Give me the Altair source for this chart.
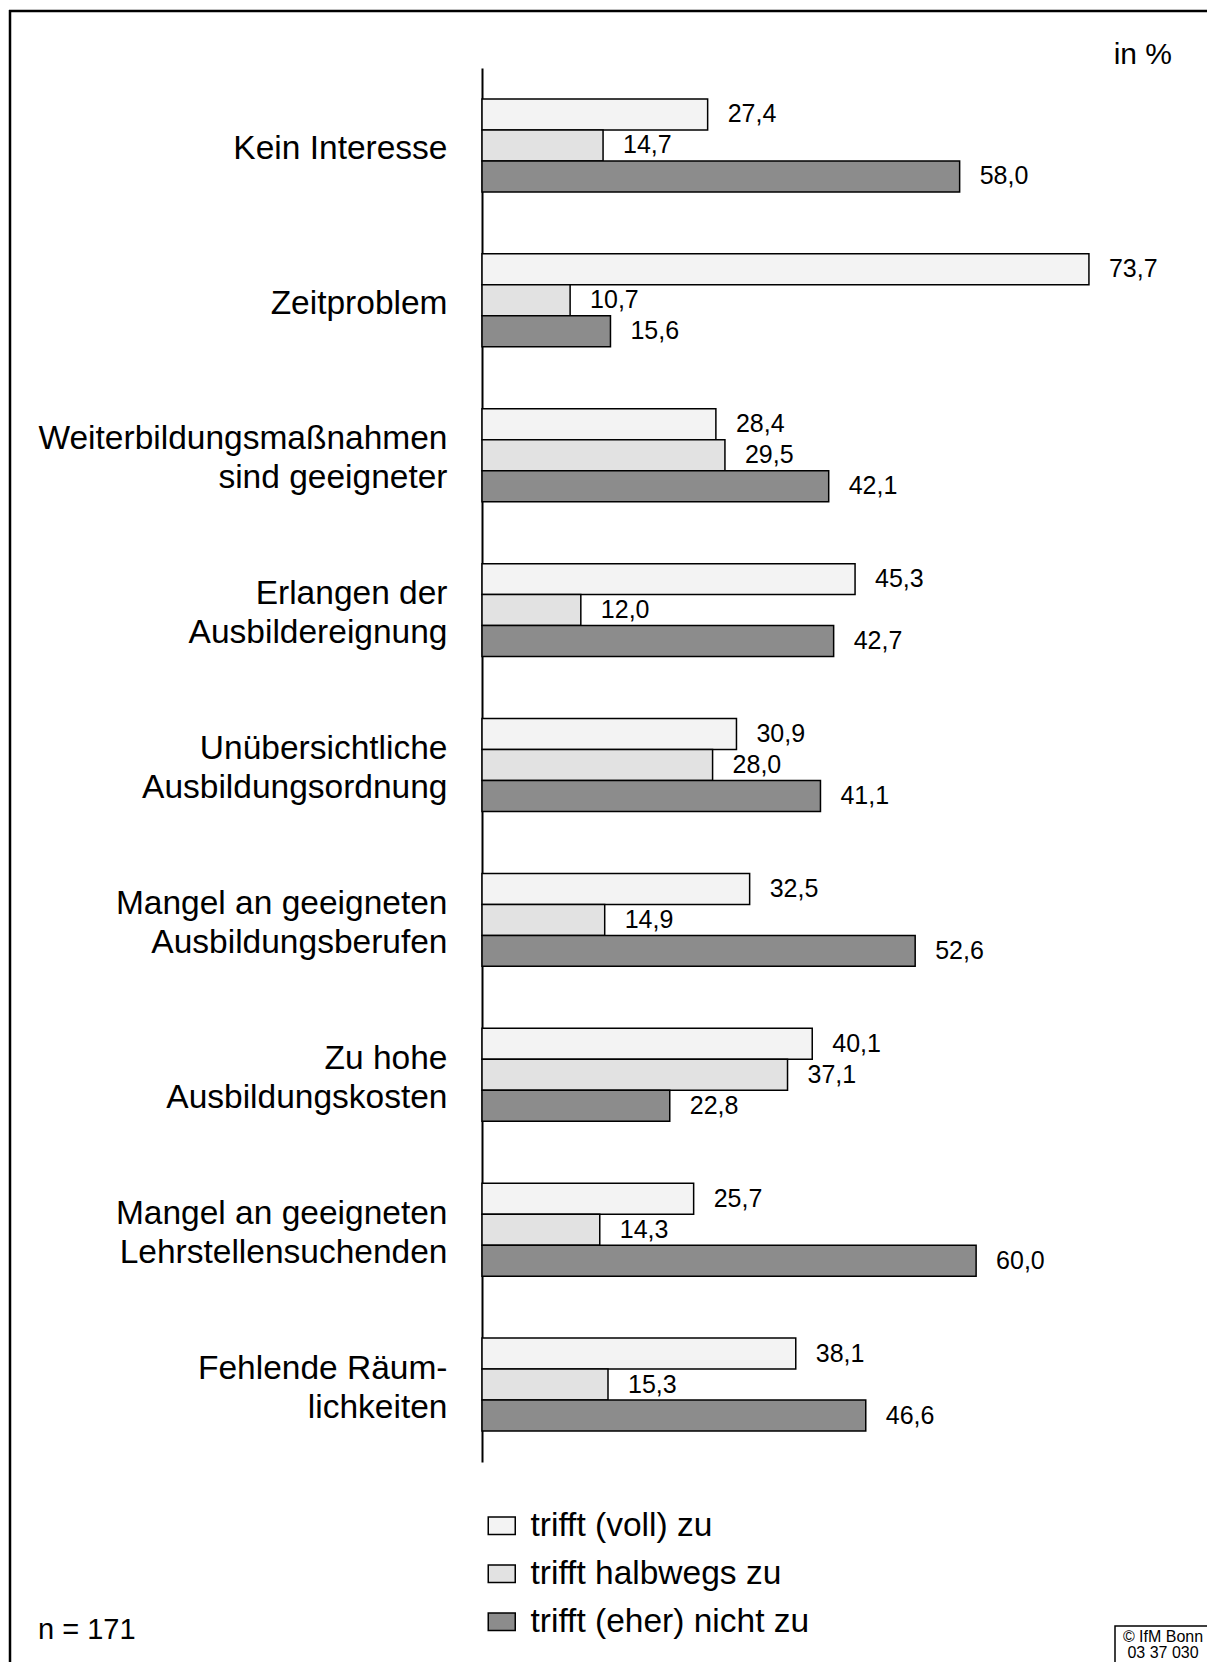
import altair as alt
import pandas as pd

categories = [
    "Kein Interesse",
    "Zeitproblem",
    "Weiterbildungsmaßnahmen|sind geeigneter",
    "Erlangen der|Ausbildereignung",
    "Unübersichtliche|Ausbildungsordnung",
    "Mangel an geeigneten|Ausbildungsberufen",
    "Zu hohe|Ausbildungskosten",
    "Mangel an geeigneten|Lehrstellensuchenden",
    "Fehlende Räum-|lichkeiten",
]
series = ["trifft (voll) zu", "trifft halbwegs zu", "trifft (eher) nicht zu"]
voll = [27.4, 73.7, 28.4, 45.3, 30.9, 32.5, 40.1, 25.7, 38.1]
halb = [14.7, 10.7, 29.5, 12.0, 28.0, 14.9, 37.1, 14.3, 15.3]
nicht = [58.0, 15.6, 42.1, 42.7, 41.1, 52.6, 22.8, 60.0, 46.6]
colors = ["#f3f3f3", "#e2e2e2", "#8c8c8c"]

rows = []
for s, vals in zip(series, [voll, halb, nicht]):
    for c, v in zip(categories, vals):
        rows.append({"cat": c, "series": s, "value": v,
                     "label": f"{v:.1f}".replace(".", ",")})
df = pd.DataFrame(rows)

FONT = "Liberation Sans"

y_enc = alt.Y("cat:N", sort=categories,
              scale=alt.Scale(paddingInner=0.4, paddingOuter=0.2),
              axis=alt.Axis(title=None, ticks=False, grid=False,
                            domainColor="black", domainWidth=2,
                            labelFont=FONT, labelFontSize=33.5, labelColor="black",
                            labelPadding=35, labelLimit=700, labelLineHeight=39,
                            labelAlign="right", labelBaseline="middle",
                            labelOffset={"condition": {"test": "indexof(datum.value, '|') >= 0",
                                                       "value": -16},
                                         "value": 4},
                            labelExpr="split(datum.label, '|')"))
yoff = alt.YOffset("series:N", sort=series,
                   scale=alt.Scale(paddingInner=0, paddingOuter=0))
x_enc = alt.X("value:Q", scale=alt.Scale(domain=[0, 85]), axis=None)

base = alt.Chart(df)

bars = base.mark_bar(stroke="black", strokeWidth=1.5, cornerRadius=0).encode(
    y=y_enc, yOffset=yoff, x=x_enc,
    fill=alt.Fill("series:N", sort=series,
                  scale=alt.Scale(domain=series, range=colors),
                  legend=alt.Legend(title=None, orient="none", legendX=3, legendY=1441,
                                    direction="vertical", padding=0,
                                    labelFont=FONT, labelFontSize=33.5, labelColor="black",
                                    labelOffset=12, rowPadding=13, labelLimit=700,
                                    symbolType="M-1,-0.65H1V0.65H-1Z", symbolSize=729,
                                    symbolStrokeColor="black", symbolStrokeWidth=1.5,
                                    symbolOpacity=1)),
)

labels = base.mark_text(align="left", baseline="middle", dx=20,
                        font=FONT, fontSize=25, color="black").encode(
    y=y_enc, yOffset=yoff, x=x_enc, text="label:N")

one = pd.DataFrame({"t": ["in %"]})
in_pct = alt.Chart(one).mark_text(align="right", baseline="middle", font=FONT,
                                  fontSize=30, color="black").encode(
    x=alt.value(690), y=alt.value(-13), text="t:N")

n_df = pd.DataFrame({"t": ["n = 171"]})
n_txt = alt.Chart(n_df).mark_text(align="left", baseline="middle", font=FONT,
                                  fontSize=29, color="black").encode(
    x=alt.value(-444), y=alt.value(1562), text="t:N")

box_df = pd.DataFrame({"t": [""]})
copy_box = alt.Chart(box_df).mark_rect(fill="white", stroke="black", strokeWidth=1.5).encode(
    x=alt.value(633), x2=alt.value(760), y=alt.value(1558), y2=alt.value(1640))
c1 = pd.DataFrame({"t": ["© IfM Bonn"]})
copy1 = alt.Chart(c1).mark_text(align="center", baseline="middle", font=FONT,
                                fontSize=16, color="black").encode(
    x=alt.value(681), y=alt.value(1569), text="t:N")
c2 = pd.DataFrame({"t": ["03 37 030"]})
copy2 = alt.Chart(c2).mark_text(align="center", baseline="middle", font=FONT,
                                fontSize=16, color="black").encode(
    x=alt.value(681), y=alt.value(1585), text="t:N")

frame_left = alt.Chart(box_df).mark_rule(color="black", strokeWidth=2.5).encode(
    x=alt.value(-472), y=alt.value(-58), y2=alt.value(1600))
frame_top = alt.Chart(box_df).mark_rule(color="black", strokeWidth=2.5).encode(
    x=alt.value(-473), x2=alt.value(730), y=alt.value(-57))

chart = alt.layer(bars, labels, in_pct, n_txt, copy_box, copy1, copy2,
                  frame_left, frame_top).properties(
    width=700, height=1394,
    autosize=alt.AutoSizeParams(type="none"),
    padding={"left": 474, "top": 60, "right": 25, "bottom": 200},
).configure_view(stroke=None)

chart.save("out.html", embed_options={"renderer": "svg", "actions": False})
